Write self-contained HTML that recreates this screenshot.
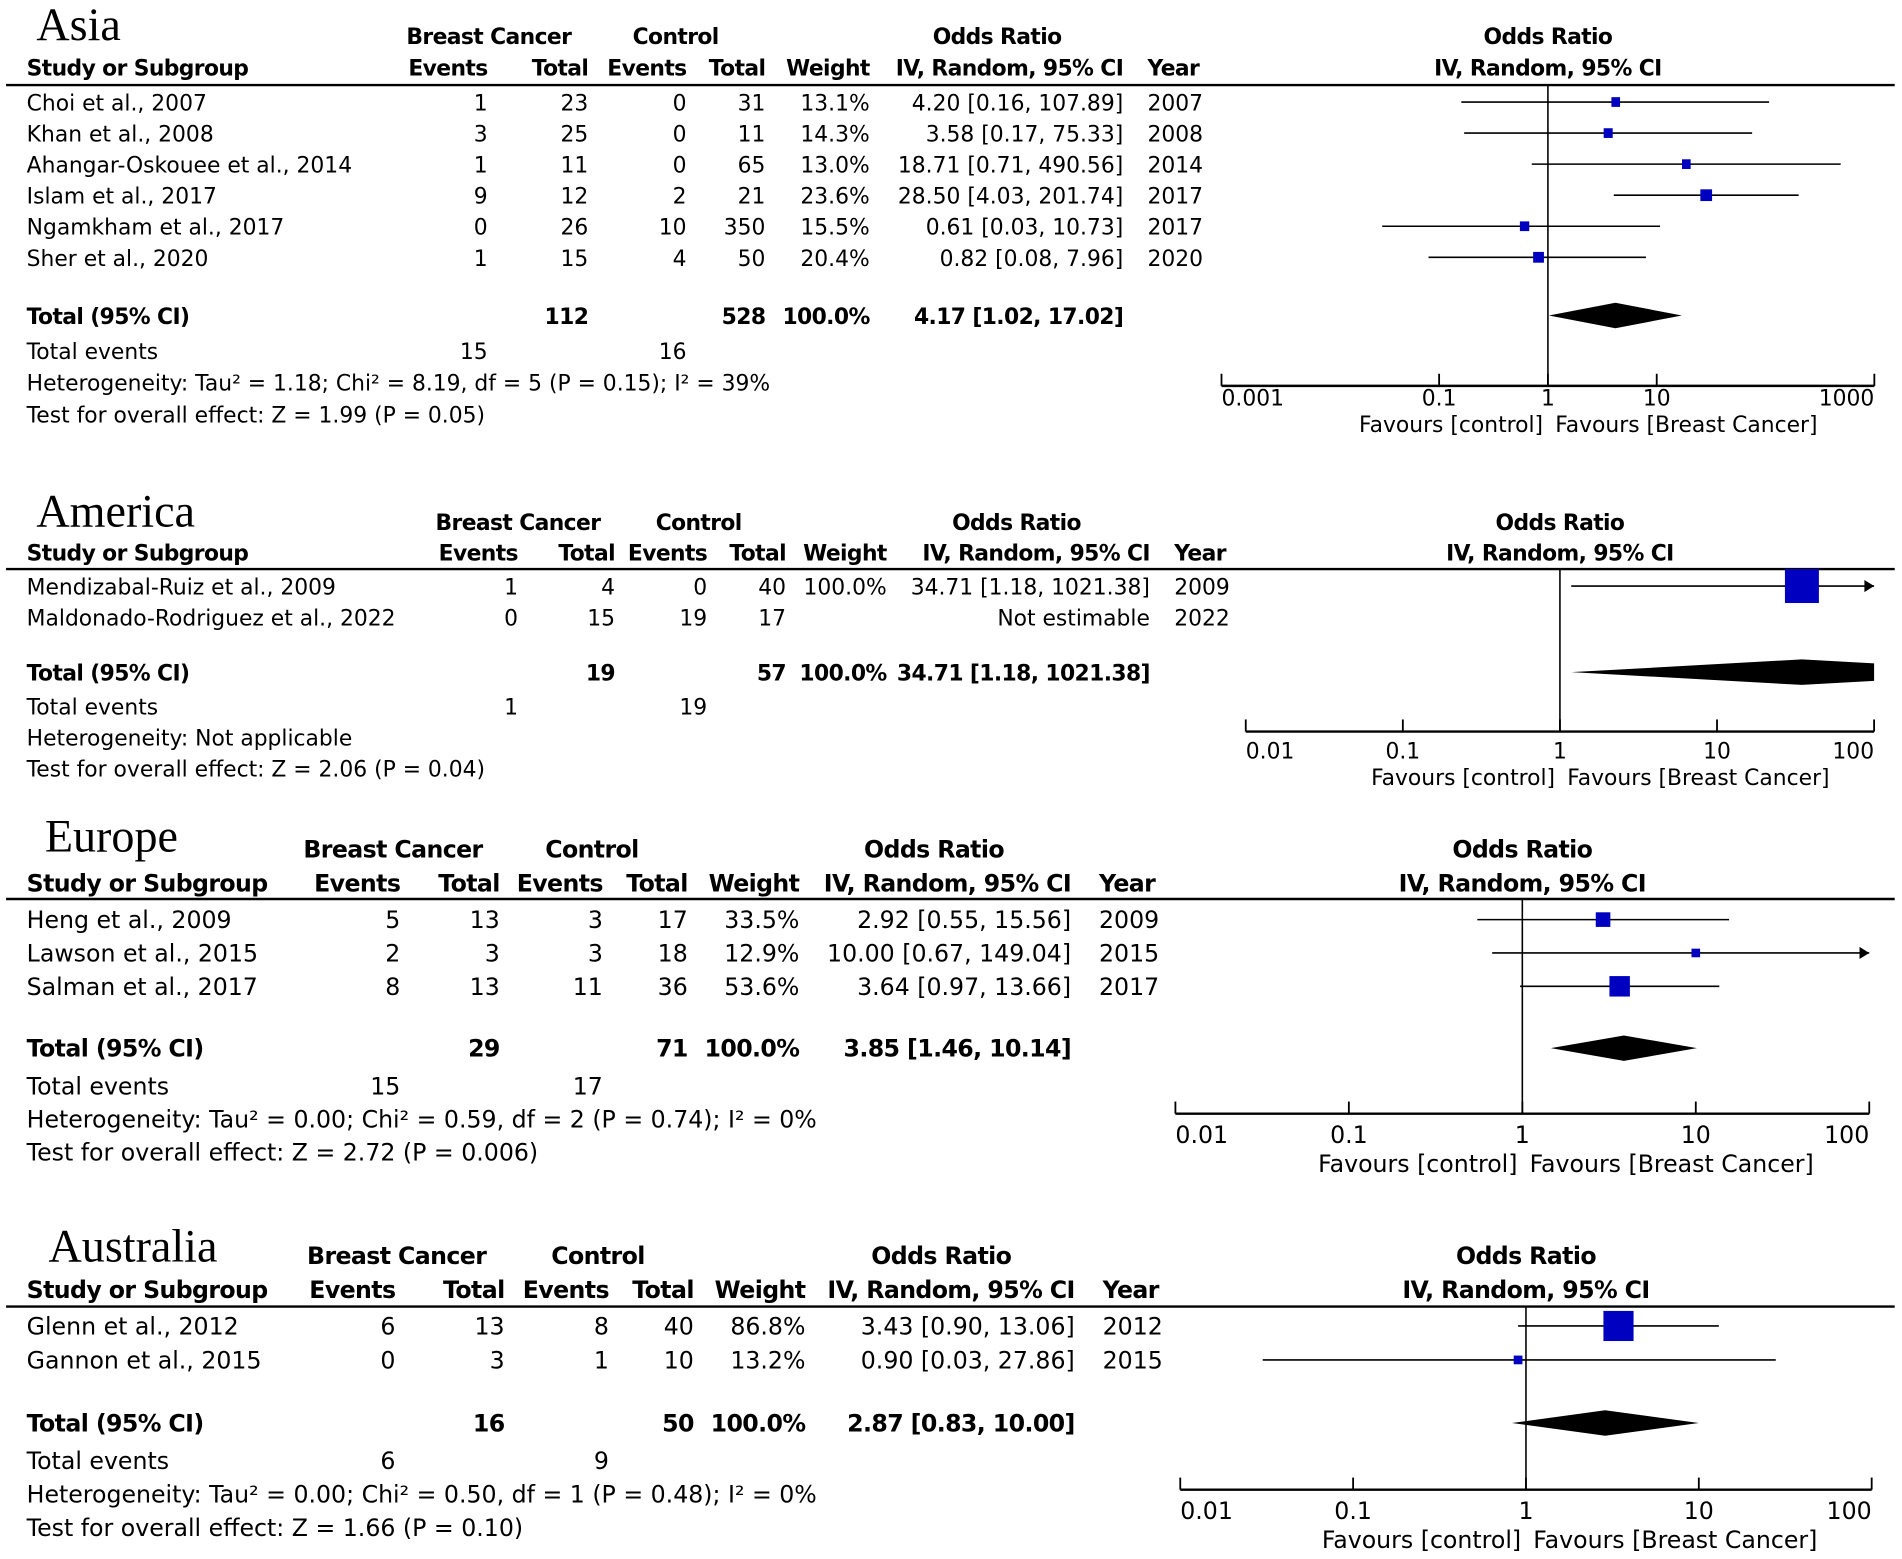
<!DOCTYPE html>
<html><head><meta charset="utf-8">
<style>
html,body{margin:0;padding:0;background:#fff;}
svg{display:block;}
text{font-family:"DejaVu Sans","Liberation Sans",sans-serif;fill:#000;}
.serif{font-family:"Liberation Serif",serif;}
.b{font-weight:bold;letter-spacing:-0.5px;}
</style></head>
<body>
<svg id="fig" xmlns="http://www.w3.org/2000/svg" width="1902" height="1559" viewBox="0 0 1568 1285"></svg>
<script>
// ===== Asia data =====
const asiaStudies = ["Choi et al., 2007","Khan et al., 2008","Ahangar-Oskouee et al., 2014","Islam et al., 2017","Ngamkham et al., 2017","Sher et al., 2020"];
const asiaEvents1 = ["1","3","1","9","0","1"];
const asiaTotal1 = ["23","25","11","12","26","15"];
const asiaEvents2 = ["0","0","0","2","10","4"];
const asiaTotal2 = ["31","11","65","21","350","50"];
const asiaWeight = [13.1,14.3,13.0,23.6,15.5,20.4];
const asiaOR = [4.20,3.58,18.71,28.50,0.61,0.82];
const asiaLo = [0.16,0.17,0.71,4.03,0.03,0.08];
const asiaHi = [107.89,75.33,490.56,201.74,10.73,7.96];
const asiaYear = ["2007","2008","2014","2017","2017","2020"];
const asiaTotal = {n1:"112",n2:"528",w:"100.0%",or:4.17,lo:1.02,hi:17.02,e1:"15",e2:"16"};
const asiaHet = "Heterogeneity: Tau² = 1.18; Chi² = 8.19, df = 5 (P = 0.15); I² = 39%";
const asiaTest = "Test for overall effect: Z = 1.99 (P = 0.05)";
const asiaTicks = [0.001,0.1,1,10,1000];
const asiaTickLabels = ["0.001","0.1","1","10","1000"];

// ===== America data =====
const amStudies = ["Mendizabal-Ruiz et al., 2009","Maldonado-Rodriguez et al., 2022"];
const amEvents1 = ["1","0"];
const amTotal1 = ["4","15"];
const amEvents2 = ["0","19"];
const amTotal2 = ["40","17"];
const amWeight = [100.0,null];
const amOR = [34.71,null];
const amLo = [1.18,null];
const amHi = [1021.38,null];
const amYear = ["2009","2022"];
const amTotal = {n1:"19",n2:"57",w:"100.0%",or:34.71,lo:1.18,hi:1021.38,e1:"1",e2:"19"};
const amHet = "Heterogeneity: Not applicable";
const amTest = "Test for overall effect: Z = 2.06 (P = 0.04)";
const amTicks = [0.01,0.1,1,10,100];
const amTickLabels = ["0.01","0.1","1","10","100"];

// ===== Europe data =====
const euStudies = ["Heng et al., 2009","Lawson et al., 2015","Salman et al., 2017"];
const euEvents1 = ["5","2","8"];
const euTotal1 = ["13","3","13"];
const euEvents2 = ["3","3","11"];
const euTotal2 = ["17","18","36"];
const euWeight = [33.5,12.9,53.6];
const euOR = [2.92,10.00,3.64];
const euLo = [0.55,0.67,0.97];
const euHi = [15.56,149.04,13.66];
const euYear = ["2009","2015","2017"];
const euTotal = {n1:"29",n2:"71",w:"100.0%",or:3.85,lo:1.46,hi:10.14,e1:"15",e2:"17"};
const euHet = "Heterogeneity: Tau² = 0.00; Chi² = 0.59, df = 2 (P = 0.74); I² = 0%";
const euTest = "Test for overall effect: Z = 2.72 (P = 0.006)";
const euTicks = [0.01,0.1,1,10,100];
const euTickLabels = ["0.01","0.1","1","10","100"];

// ===== Australia data =====
const auStudies = ["Glenn et al., 2012","Gannon et al., 2015"];
const auEvents1 = ["6","0"];
const auTotal1 = ["13","3"];
const auEvents2 = ["8","1"];
const auTotal2 = ["40","10"];
const auWeight = [86.8,13.2];
const auOR = [3.43,0.90];
const auLo = [0.90,0.03];
const auHi = [13.06,27.86];
const auYear = ["2012","2015"];
const auTotal = {n1:"16",n2:"50",w:"100.0%",or:2.87,lo:0.83,hi:10.00,e1:"6",e2:"9"};
const auHet = "Heterogeneity: Tau² = 0.00; Chi² = 0.50, df = 1 (P = 0.48); I² = 0%";
const auTest = "Test for overall effect: Z = 1.66 (P = 0.10)";
const auTicks = [0.01,0.1,1,10,100];
const auTickLabels = ["0.01","0.1","1","10","100"];

const NS = "http://www.w3.org/2000/svg";
const svg = document.getElementById('fig');
function mk(tag, attrs, parent){
  const e = document.createElementNS(NS, tag);
  for (const k in attrs) e.setAttribute(k, attrs[k]);
  (parent||svg).appendChild(e);
  return e;
}
function txt(g, x, y, s, anchor, size, cls, name){
  const t = mk('text', {x:x, y:y, 'text-anchor':anchor, 'font-size':size}, g);
  if (cls) t.setAttribute('class', cls);
  
  
  t.textContent = s;
  return t;
}
function fmt(v){ return v.toFixed(2); }

function section(L, D){
  const g = mk('g', {});
  
  
  const fs = L.fs;
  const sx = v => L.axX0 + (Math.log10(v) - Math.log10(D.ticks[0])) * L.dec;
  txt(g, L.titleX, L.titleY, L.title, 'start', L.titleFs, 'serif', L.id + '-title');
  txt(g, L.hBC, L.h1, 'Breast Cancer', 'middle', fs, 'b', 'breast-cancer-header');
  txt(g, L.hCt, L.h1, 'Control', 'middle', fs, 'b', 'control-header');
  txt(g, L.hOR, L.h1, 'Odds Ratio', 'middle', fs, 'b', 'odds-ratio-header');
  txt(g, sx(1), L.h1, 'Odds Ratio', 'middle', fs, 'b', 'plot-odds-ratio-header');
  txt(g, 22, L.h2, 'Study or Subgroup', 'start', fs, 'b', 'study-header');
  txt(g, L.c[0], L.h2, 'Events', 'end', fs, 'b', 'events-header');
  txt(g, L.c[1], L.h2, 'Total', 'end', fs, 'b', 'total-header');
  txt(g, L.c[2], L.h2, 'Events', 'end', fs, 'b', 'events-header');
  txt(g, L.c[3], L.h2, 'Total', 'end', fs, 'b', 'total-header');
  txt(g, L.c[4], L.h2, 'Weight', 'end', fs, 'b', 'weight-header');
  txt(g, L.c[5], L.h2, 'IV, Random, 95% CI', 'end', fs, 'b', 'ci-header');
  txt(g, L.c[6], L.h2, 'Year', 'start', fs, 'b', 'year-header');
  txt(g, sx(1), L.h2, 'IV, Random, 95% CI', 'middle', fs, 'b', 'plot-ci-header');
  const hl = mk('line', {x1:5, x2:1562, y1:L.hline, y2:L.hline, stroke:'#000', 'stroke-width':2}, g);
  
  
  const nl = mk('line', {x1:sx(1), x2:sx(1), y1:L.hline, y2:L.axY, stroke:'#000', 'stroke-width':1.3}, g);
  
  
  const xMax = sx(D.ticks[D.ticks.length-1]);
  const xMin = sx(D.ticks[0]);
  for (let i = 0; i < D.studies.length; i++){
    const by = L.r0 + i * L.rs;
    const cy = by - L.cyOff;
    txt(g, 22, by, D.studies[i], 'start', fs, null, 'study-name');
    txt(g, L.c[0], by, D.e1[i], 'end', fs, null, 'bc-events');
    txt(g, L.c[1], by, D.t1[i], 'end', fs, null, 'bc-total');
    txt(g, L.c[2], by, D.e2[i], 'end', fs, null, 'control-events');
    txt(g, L.c[3], by, D.t2[i], 'end', fs, null, 'control-total');
    if (D.or[i] != null){
      txt(g, L.c[4], by, D.w[i].toFixed(1) + '%', 'end', fs, null, 'weight-value');
      txt(g, L.c[5], by, fmt(D.or[i]) + ' [' + fmt(D.lo[i]) + ', ' + fmt(D.hi[i]) + ']', 'end', fs, null, 'odds-ratio-ci');
      const x1 = Math.max(xMin, sx(D.lo[i]));
      const x2raw = sx(D.hi[i]);
      const x2 = Math.min(xMax, x2raw);
      const ln = mk('line', {x1:x1, x2:x2, y1:cy, y2:cy, stroke:'#000', 'stroke-width':1.3}, g);
      
      
      if (x2raw > xMax){
        const ah = mk('polygon', {points:(xMax)+','+cy+' '+(xMax-8)+','+(cy-5)+' '+(xMax-8)+','+(cy+5), fill:'#000'}, g);
        
        
      }
      const side = 4 + 24 * D.w[i] / 100;
      const hgt = Math.max(side, L.minH);
      const sq = mk('rect', {x:sx(D.or[i]) - side/2, y:cy - hgt/2, width:side, height:hgt, fill:'#0000c0'}, g);
      
      
    } else {
      txt(g, L.c[5], by, 'Not estimable', 'end', fs, null, 'odds-ratio-ci');
    }
    txt(g, L.c[6], by, D.year[i], 'start', fs, null, 'year-value');
  }
  const T = D.total;
  txt(g, 22, L.tot, 'Total (95% CI)', 'start', fs, 'b', 'total-label');
  txt(g, L.c[1], L.tot, T.n1, 'end', fs, 'b', 'bc-total-sum');
  txt(g, L.c[3], L.tot, T.n2, 'end', fs, 'b', 'control-total-sum');
  txt(g, L.c[4], L.tot, T.w, 'end', fs, 'b', 'total-weight');
  txt(g, L.c[5], L.tot, fmt(T.or) + ' [' + fmt(T.lo) + ', ' + fmt(T.hi) + ']', 'end', fs, 'b', 'pooled-or-ci');
  const dy = L.tot - L.cyOff, dh = 10.5;
  const lx = sx(T.lo), cx = sx(T.or), hxr = sx(T.hi);
  let pts;
  if (hxr > xMax){
    const f = (hxr - xMax) / (hxr - cx);
    pts = [[lx,dy],[cx,dy-dh],[xMax,dy-dh*f],[xMax,dy+dh*f],[cx,dy+dh]];
  } else {
    pts = [[lx,dy],[cx,dy-dh],[hxr,dy],[cx,dy+dh]];
  }
  const dm = mk('polygon', {points:pts.map(p=>p.join(',')).join(' '), fill:'#000'}, g);
  
  
  txt(g, 22, L.te, 'Total events', 'start', fs, null, 'total-events-label');
  txt(g, L.c[0], L.te, T.e1, 'end', fs, null, 'bc-total-events');
  txt(g, L.c[2], L.te, T.e2, 'end', fs, null, 'control-total-events');
  txt(g, 22, L.te + L.fst, D.het, 'start', fs, null, 'heterogeneity-stats');
  txt(g, 22, L.te + 2*L.fst, D.test, 'start', fs, null, 'overall-effect-test');
  const ax = mk('line', {x1:xMin, x2:xMax, y1:L.axY, y2:L.axY, stroke:'#000', 'stroke-width':2}, g);
  
  
  for (let k = 0; k < D.ticks.length; k++){
    const tx = sx(D.ticks[k]);
    const tk = mk('line', {x1:tx, x2:tx, y1:L.axY, y2:L.axY - 10, stroke:'#000', 'stroke-width':1.5}, g);
    
    
    const anc = k === 0 ? 'start' : (k === D.ticks.length-1 ? 'end' : 'middle');
    txt(g, tx, L.axY + L.lbOff, D.tickLabels[k], anc, fs, null, 'x-tick-label');
  }
  txt(g, sx(1) - 4, L.axY + L.fvOff, 'Favours [control]', 'end', fs, null, 'favours-control-label');
  txt(g, sx(1) + 6, L.axY + L.fvOff, 'Favours [Breast Cancer]', 'start', fs, null, 'favours-breast-cancer-label');
}

section({id:'asia', title:'Asia', titleX:30, titleY:33, titleFs:38, fs:18,
  h1:36, h2:62, hline:70, hBC:403, hCt:557, hOR:822,
  c:[402,485,566,631,717,926,946], r0:91, rs:25.6, cyOff:7, minH:8,
  tot:267, te:296, fst:26, axY:318, axX0:1007, dec:89.7, lbOff:16, fvOff:38},
  {studies:asiaStudies, e1:asiaEvents1, t1:asiaTotal1, e2:asiaEvents2, t2:asiaTotal2, w:asiaWeight,
   or:asiaOR, lo:asiaLo, hi:asiaHi, year:asiaYear, total:asiaTotal, het:asiaHet, test:asiaTest,
   ticks:asiaTicks, tickLabels:asiaTickLabels});

section({id:'america', title:'America', titleX:30, titleY:434, titleFs:38, fs:18,
  h1:437, h2:462, hline:469, hBC:427, hCt:576, hOR:838,
  c:[427,507,583,648,731,948,968], r0:490, rs:25.5, cyOff:7, minH:8,
  tot:561, te:589, fst:25.5, axY:603, axX0:1027, dec:129.5, lbOff:22, fvOff:44},
  {studies:amStudies, e1:amEvents1, t1:amTotal1, e2:amEvents2, t2:amTotal2, w:amWeight,
   or:amOR, lo:amLo, hi:amHi, year:amYear, total:amTotal, het:amHet, test:amTest,
   ticks:amTicks, tickLabels:amTickLabels});

section({id:'europe', title:'Europe', titleX:37, titleY:702, titleFs:38, fs:19.5,
  h1:707, h2:735, hline:741, hBC:324, hCt:488, hOR:770,
  c:[330,412,497,567,659,883,906], r0:765, rs:27.5, cyOff:7, minH:6,
  tot:871, te:902, fst:27.2, axY:918, axX0:969, dec:143, lbOff:24, fvOff:48},
  {studies:euStudies, e1:euEvents1, t1:euTotal1, e2:euEvents2, t2:euTotal2, w:euWeight,
   or:euOR, lo:euLo, hi:euHi, year:euYear, total:euTotal, het:euHet, test:euTest,
   ticks:euTicks, tickLabels:euTickLabels});

section({id:'australia', title:'Australia', titleX:40, titleY:1040, titleFs:38, fs:19.5,
  h1:1042, h2:1070, hline:1077, hBC:327, hCt:493, hOR:776,
  c:[326,416,502,572,664,886,909], r0:1100, rs:28, cyOff:7, minH:6,
  tot:1180, te:1211, fst:27.5, axY:1228, axX0:973, dec:142.5, lbOff:24, fvOff:48},
  {studies:auStudies, e1:auEvents1, t1:auTotal1, e2:auEvents2, t2:auTotal2, w:auWeight,
   or:auOR, lo:auLo, hi:auHi, year:auYear, total:auTotal, het:auHet, test:auTest,
   ticks:auTicks, tickLabels:auTickLabels});
</script>
</body></html>
